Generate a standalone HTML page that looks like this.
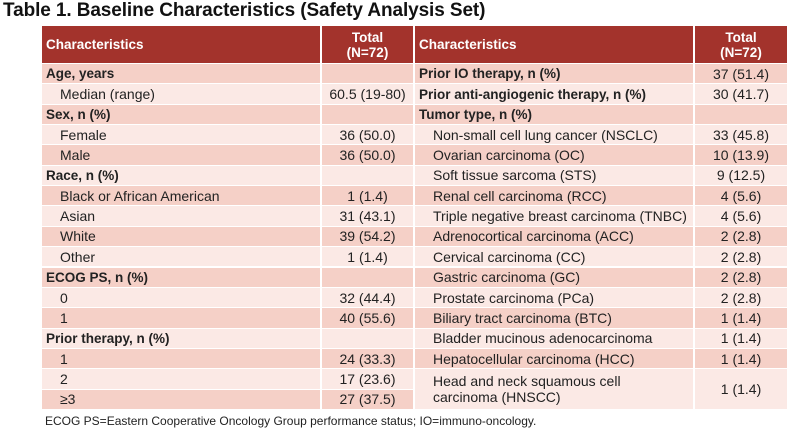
<!DOCTYPE html>
<html><head><meta charset="utf-8"><style>
body{margin:0;width:800px;height:429px;background:#fff;overflow:hidden;font-family:"Liberation Sans",sans-serif;position:relative}
.t{position:absolute;left:3px;top:0;font-size:19px;font-weight:bold;color:#111;letter-spacing:-0.1px}
.c{position:absolute;box-sizing:border-box;font-size:14px;color:#222;white-space:nowrap;display:flex;align-items:center;border-right:2px solid #fff;border-bottom:1px solid #fff}
.h{background:#a3332c;color:#fff;font-weight:bold;font-size:13.5px}
.d{background:#f5d0c7}.l{background:#fbe9e5}
.b{font-weight:bold;padding-left:4px;font-size:13.5px}.s{padding-left:18px}.n{justify-content:center;text-align:center}
.f{position:absolute;left:45px;top:414px;font-size:12px;color:#222}
</style></head><body>
<div class="t">Table 1. Baseline Characteristics (Safety Analysis Set)</div>
<div id="g"></div>
<div class="f">ECOG PS=Eastern Cooperative Oncology Group performance status; IO=immuno-oncology.</div>
<script>
var g=document.getElementById('g'),top0=26,hh=38,rh=20.35;
function cell(x,w,y,h,cls,txt){var d=document.createElement('div');d.className='c '+cls;d.style.left=x+'px';d.style.width=w+'px';d.style.top=y+'px';d.style.height=h+'px';d.innerHTML=txt;g.appendChild(d);}
cell(42,280,top0,hh,'h b','Characteristics');cell(322,93,top0,hh,'h n','Total<br>(N=72)');
cell(415,280,top0,hh,'h b','Characteristics');cell(695,94,top0,hh,'h n','Total<br>(N=72)');
var L=[['b','Age, years',''],['s','Median (range)','60.5 (19-80)'],['b','Sex, n (%)',''],['s','Female','36 (50.0)'],['s','Male','36 (50.0)'],['b','Race, n (%)',''],['s','Black or African American','1 (1.4)'],['s','Asian','31 (43.1)'],['s','White','39 (54.2)'],['s','Other','1 (1.4)'],['b','ECOG PS, n (%)',''],['s','0','32 (44.4)'],['s','1','40 (55.6)'],['b','Prior therapy, n (%)',''],['s','1','24 (33.3)'],['s','2','17 (23.6)'],['s','≥3','27 (37.5)']];
var R=[['b','Prior IO therapy, n (%)','37 (51.4)'],['b','Prior anti-angiogenic therapy, n (%)','30 (41.7)'],['b','Tumor type, n (%)',''],['s','Non-small cell lung cancer (NSCLC)','33 (45.8)'],['s','Ovarian carcinoma (OC)','10 (13.9)'],['s','Soft tissue sarcoma (STS)','9 (12.5)'],['s','Renal cell carcinoma (RCC)','4 (5.6)'],['s','Triple negative breast carcinoma (TNBC)','4 (5.6)'],['s','Adrenocortical carcinoma (ACC)','2 (2.8)'],['s','Cervical carcinoma (CC)','2 (2.8)'],['s','Gastric carcinoma (GC)','2 (2.8)'],['s','Prostate carcinoma (PCa)','2 (2.8)'],['s','Biliary tract carcinoma (BTC)','1 (1.4)'],['s','Bladder mucinous adenocarcinoma','1 (1.4)'],['s','Hepatocellular carcinoma (HCC)','1 (1.4)'],['s','Head and neck squamous cell<br>carcinoma (HNSCC)','1 (1.4)']];
L.forEach(function(r,i){var y=top0+hh+i*rh,bg=i%2?'l':'d';cell(42,280,y,rh,bg+' '+r[0],r[1]);cell(322,93,y,rh,bg+' n',r[2]);});
R.forEach(function(r,i){var y=top0+hh+i*rh,h=i==15?rh*2:rh,bg=i%2?'l':'d';cell(415,280,y,h,bg+' '+r[0],r[1]);cell(695,94,y,h,bg+' n',r[2]);});
</script>
</body></html>
